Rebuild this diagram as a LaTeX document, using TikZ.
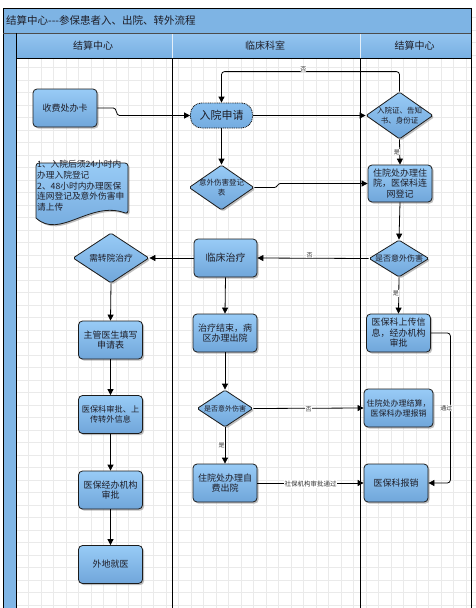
\documentclass[tikz,border=0pt]{standalone}
\usepackage{fontspec}
\setmainfont{Noto Sans CJK SC}
\usetikzlibrary{shapes.geometric,arrows.meta,shadows,calc}

\definecolor{nodetop}{RGB}{152,203,246}
\definecolor{nodebot}{RGB}{112,166,218}
\definecolor{starttop}{RGB}{136,190,238}
\definecolor{startbot}{RGB}{116,172,224}
\definecolor{titlec}{RGB}{126,180,228}
\definecolor{hdtop}{RGB}{148,197,240}
\definecolor{hdbot}{RGB}{120,175,226}
\definecolor{stripc}{RGB}{128,182,230}
\definecolor{gridc}{RGB}{234,234,234}
\definecolor{edgec}{RGB}{28,28,28}
\definecolor{txtc}{RGB}{30,30,40}

\tikzset{
  shad/.style={drop shadow={shadow xshift=1.6pt,shadow yshift=-1.6pt,fill=black!50,opacity=0.5}},
  procbox/.style={draw=edgec,line width=0.8pt,rounded corners=4pt,
    top color=nodetop,bottom color=nodebot,shad,
    minimum width=64pt,minimum height=38pt,inner sep=1pt,align=center,
    font=\fontsize{9}{10.5}\selectfont,text=txtc},
  startbox/.style={draw=edgec,line width=0.8pt,rounded corners=11pt,
    dash pattern=on 1pt off 0.8pt,top color=starttop,bottom color=startbot,
    minimum width=62pt,minimum height=25pt,inner sep=1pt,
    font=\fontsize{11}{13}\selectfont,text=txtc},
  decis/.style={diamond,draw=edgec,line width=0.8pt,rounded corners=1.5pt,
    top color=nodetop,bottom color=nodebot,shad,inner sep=0pt},
  dtext/.style={align=center,inner sep=0pt,text=txtc},
  conn/.style={draw=black,line width=0.8pt,-{Triangle[length=6pt,width=6pt]}},
  lab/.style={font=\fontsize{6}{7}\selectfont,fill=white,inner sep=0.6pt,text=black!80},
  lane/.style={draw=black,line width=0.9pt},
}

\begin{document}
\begin{tikzpicture}[x=1pt,y=-1pt]
\useasboundingbox (0,0) rectangle (476,608);
\fill[white] (0,0) rectangle (476,608);
% grid
\begin{scope}
  \clip (3,8) rectangle (476,608);
  \foreach \i in {0,...,38} \draw[gridc,line width=0.5pt] ({3.5+12.5*\i},8) -- ({3.5+12.5*\i},608);
  \foreach \j in {0,...,48} \draw[gridc,line width=0.5pt] (3,{4.8+12.5*\j}) -- (476,{4.8+12.5*\j});
\end{scope}
% title bar, header, strip
\fill[titlec] (3,8) rectangle (471,33);
\shade[top color=hdtop,bottom color=hdbot] (16,33) rectangle (471,58);
\fill[stripc] (3,33) rectangle (16,608);
\node[anchor=west,inner sep=0pt,font=\fontsize{10.5}{12}\selectfont,text=txtc] (title) at (6,20.5) {结算中心{-}{-}{-}参保患者入、出院、转外流程};
\node[font=\fontsize{10}{12}\selectfont,text=txtc] (h1) at (93,45.5) {结算中心};
\node[font=\fontsize{10}{12}\selectfont,text=txtc] (h2) at (265,45.5) {临床科室};
\node[font=\fontsize{10}{12}\selectfont,text=txtc] (h3) at (414.5,45.5) {结算中心};
\draw[white!80!hdbot,line width=0.6pt] (172,33) -- (172,58) (360,33) -- (360,58);
\draw[lane] (3,608) -- (3,8) -- (471,8) -- (471,608);
\draw[lane,draw=black!70] (3,33) -- (471,33);
\draw[lane] (16,58) -- (471,58);
\draw[lane] (16,33) -- (16,608);
\draw[lane] (172,58) -- (172,608);
\draw[lane] (360,58) -- (360,608);

% document shape
\path[draw=edgec,line width=0.8pt,top color=nodetop,bottom color=nodebot,shad]
  [rounded corners=3pt] (36,218) -- (36,163) -- (128,163) -- (128,214)
  [sharp corners] .. controls (90,200) and (60,240) .. (36,218) -- cycle;
\node[anchor=north west,inner sep=0pt,align=left,text width=94pt,
  font=\fontsize{8.7}{10.7}\selectfont,text=txtc] (doc) at (37,160.3)
  {1、入院后须24小时内\\办理入院登记\\2、48小时内办理医保\\连网登记及意外伤害申\\请上传};

% nodes
\node[procbox] (n1) at (65,108) {收费处办卡};
\node[startbox] (n2) at (221.5,115.5) {入院申请};
\node[decis,minimum width=67pt,minimum height=47pt] (d1) at (399.5,115.5) {};
\node[dtext,font=\fontsize{7.5}{10}\selectfont] (d1t) at (d1) {入院证、告知\\书、身份证};
\node[decis,minimum width=65pt,minimum height=45pt] (d2) at (221.5,187.5) {};
\node[dtext,font=\fontsize{7.5}{10}\selectfont] (d2t) at (d2) {意外伤害登记\\表};
\node[procbox,minimum height=37pt] (n3) at (400,183.5) {住院处办理住\\院，医保科连\\网登记};
\node[decis,minimum width=60pt,minimum height=37pt] (d3) at (399,258.5) {};
\node[dtext,font=\fontsize{8}{10}\selectfont] (d3t) at (d3) {是否意外伤害};
\node[procbox,minimum width=63pt,font=\fontsize{10}{12}\selectfont] (n4) at (225.5,258) {临床治疗};
\node[decis,minimum width=76pt,minimum height=50pt] (d4) at (111,258) {};
\node[dtext,font=\fontsize{8.7}{10}\selectfont] (d4t) at (d4) {需转院治疗};
\node[procbox] (n7) at (110.5,340) {主管医生填写\\申请表};
\node[procbox] (n6) at (225,333) {治疗结束，病\\区办理出院};
\node[procbox] (n5) at (398.5,333) {医保科上传信\\息，经办机构\\审批};
\node[procbox,font=\fontsize{8.2}{10.5}\selectfont] (n8) at (110.5,414.5) {医保科审批、上\\传转外信息};
\node[decis,minimum width=56pt,minimum height=37pt] (d5) at (225,408.5) {};
\node[dtext,font=\fontsize{7}{9}\selectfont] (d5t) at (d5) {是否意外伤害};
\node[procbox,minimum width=69pt,font=\fontsize{8}{10}\selectfont] (n11) at (398.5,408) {住院处办理结算，\\医保科办理报销};
\node[procbox] (n9) at (110.5,490) {医保经办机构\\审批};
\node[procbox] (n10) at (110.5,564.5) {外地就医};
\node[procbox] (n12) at (225,483) {住院处办理自\\费出院};
\node[procbox] (n13) at (396,483) {医保科报销};

% connectors
\draw[conn] (n1.east) -- ++(16,0) to[out=0,in=180] ++(6,7.5) -- (n2.west);
\draw[conn] (n2.east) -- (d1.west);
\draw[conn,rounded corners=3pt] (d1.north) -- ++(0,-20) -| node[lab,pos=0.27,yshift=2.5pt] {否} (n2.north);
\draw[conn] (n2.south) -- (d2.north);
\draw[conn] (d2.east) -- ++(20,0) to[out=0,in=180] ++(6,-4) -- (n3.west);
\draw[conn] (d1.south) -- node[lab,xshift=-3pt] {是} (n3.north);
\draw[conn] (n3.south) -- (d3.north);
\draw[conn] (d3.west) -- node[lab,pos=0.53,yshift=3pt] {否} (n4.east);
\draw[conn] (n4.west) -- (d4.east);
\draw[conn] (d3.south) -- node[lab,pos=0.45,xshift=-3pt] {是} (n5.north);
\draw[conn] (n4.south) -- (n6.north);
\draw[conn] (d4.south) -- (n7.north);
\draw[conn] (n7.south) -- (n8.north);
\draw[conn] (n8.south) -- (n9.north);
\draw[conn] (n9.south) -- (n10.north);
\draw[conn] (n6.south) -- (d5.north);
\draw[conn] (d5.east) -- node[lab,pos=0.5,yshift=-1pt] {否} (n11.west);
\draw[conn] (d5.south) -- node[lab,pos=0.5,xshift=-3.5pt] {是} (n12.north);
\draw[conn] (n12.east) -- node[lab,font=\fontsize{6.5}{7}\selectfont,yshift=-1pt] {社保机构审批通过} (n13.west);
\draw[conn,rounded corners=3pt] (n5.east) -- ++(19.5,0) |- node[lab,pos=0.25,xshift=-4pt] {通过} (n13.east);
\end{tikzpicture}
\end{document}
